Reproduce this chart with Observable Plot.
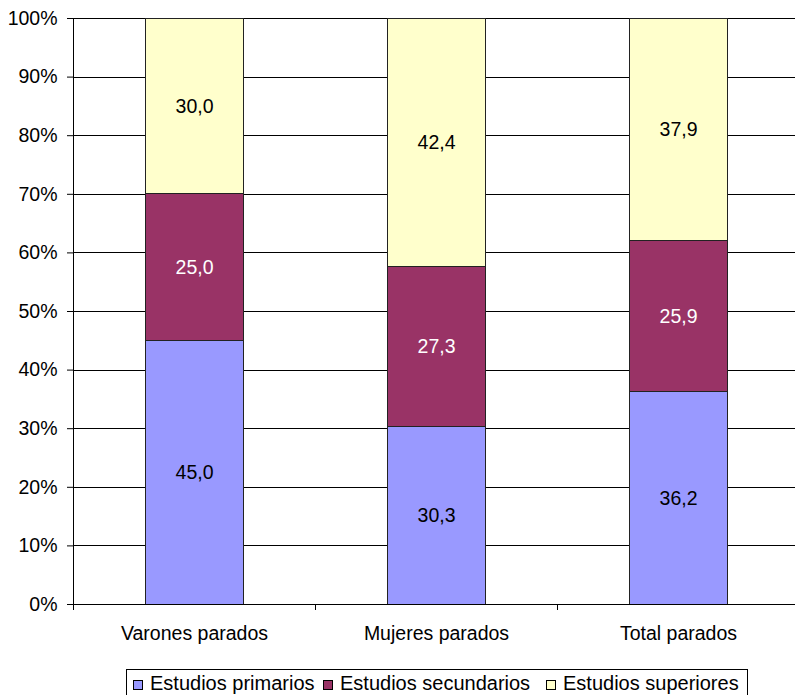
<!DOCTYPE html>
<html>
<head>
<meta charset="utf-8">
<script src="https://cdn.jsdelivr.net/npm/d3@7"></script>
<script src="https://cdn.jsdelivr.net/npm/@observablehq/plot@0.6"></script>
<style>
  html, body { margin: 0; padding: 0; background: #fff; overflow: hidden; }
  body { width: 795px; height: 695px; position: relative; font-family: "Liberation Sans", Arial, sans-serif; }
  #chart { position: absolute; left: 0; top: 0; }
  #legend {
    position: absolute; left: 126px; top: 669px; width: 620px; height: 30px;
    border: 1px solid #000; font-size: 20px; color: #000; white-space: nowrap;
  }
  #legend .item { position: absolute; top: 0; height: 30px; }
  #legend i { position: absolute; left: 0; top: 10px; width: 8px; height: 8px; border: 1px solid #000; }
  #legend span.t { position: absolute; left: 17px; top: 2px; line-height: 22px; }
</style>
</head>
<body>
<div id="chart"></div>
<div id="legend"></div>
<script>
const categories = ["Varones parados", "Mujeres parados", "Total parados"];
const seriesNames = ["Estudios primarios", "Estudios secundarios", "Estudios superiores"];
const primarios = [45.0, 30.3, 36.2];
const secundarios = [25.0, 27.3, 25.9];
const superiores = [30.0, 42.4, 37.9];
const yTicks = [0, 10, 20, 30, 40, 50, 60, 70, 80, 90, 100];
const colors = ["#9999FF", "#993366", "#FFFFCC"];
const labelColors = ["#000", "#fff", "#000"];
const legendOffsets = [6, 196, 419];

const seriesValues = [primarios, secundarios, superiores];
const data = [];
categories.forEach((c, i) => {
  seriesNames.forEach((s, j) => {
    data.push({cat: c, serie: s, value: seriesValues[j][i], idx: j});
  });
});

const fmt = v => v.toFixed(1).replace(".", ",");

// category boundary ticks (drawn from the x band scale)
function catTicks(index, scales, values, dims) {
  const g = d3.create("svg:g");
  const x = scales.x;
  const bw = x.bandwidth();
  const step = x.step();
  const bottom = dims.height - dims.marginBottom;
  const pos = categories.map(c => x(c) + bw / 2 - step / 2);
  pos.push(pos[pos.length - 1] + step);
  for (const p of pos) {
    g.append("line").attr("x1", Math.round(p) + 0.5).attr("x2", Math.round(p) + 0.5)
      .attr("y1", bottom).attr("y2", bottom + 6).attr("stroke", "#000");
  }
  return g.node();
}

const chart = Plot.plot({
  width: 795,
  height: 665,
  marginTop: 18,
  marginBottom: 61,
  marginLeft: 73,
  marginRight: -5,
  style: {fontFamily: "Liberation Sans, Arial, sans-serif", fontSize: "19.5px", color: "#000", background: "#fff"},
  x: {domain: categories, paddingInner: 0.595, paddingOuter: 0.2975, align: 0.5, label: null, axis: null},
  y: {domain: [0, 100], label: null, axis: null},
  color: {domain: seriesNames, range: colors},
  marks: [
    Plot.ruleY(yTicks, {stroke: "#000", strokeWidth: 1, shapeRendering: "crispEdges"}),
    Plot.barY(data, Plot.stackY({x: "cat", y: "value", fill: "serie", stroke: "#222", strokeWidth: 1, order: seriesNames, shapeRendering: "crispEdges"})),
    Plot.text(data, Plot.stackY({x: "cat", y: "value", order: seriesNames, text: d => fmt(d.value), fill: d => labelColors[d.idx], fontSize: 19.5})),
    Plot.axisY(yTicks, {tickFormat: d => d + "%", tickSize: 6, tickPadding: 10, fontSize: 19.5, stroke: "#000", label: null}),
    Plot.axisX({tickSize: 0, tickPadding: 22, fontSize: 19.5, label: null}),
    catTicks,
    Plot.frame({anchor: "left", stroke: "#000", shapeRendering: "crispEdges"}),
    Plot.frame({anchor: "bottom", stroke: "#000", shapeRendering: "crispEdges"})
  ]
});
document.getElementById("chart").appendChild(chart);

const legend = document.getElementById("legend");
seriesNames.forEach((s, j) => {
  const item = document.createElement("div");
  item.className = "item";
  item.style.left = legendOffsets[j] + "px";
  const sw = document.createElement("i");
  sw.style.background = colors[j];
  item.appendChild(sw);
  const t = document.createElement("span");
  t.className = "t";
  t.textContent = s;
  item.appendChild(t);
  legend.appendChild(item);
});
</script>
</body>
</html>
